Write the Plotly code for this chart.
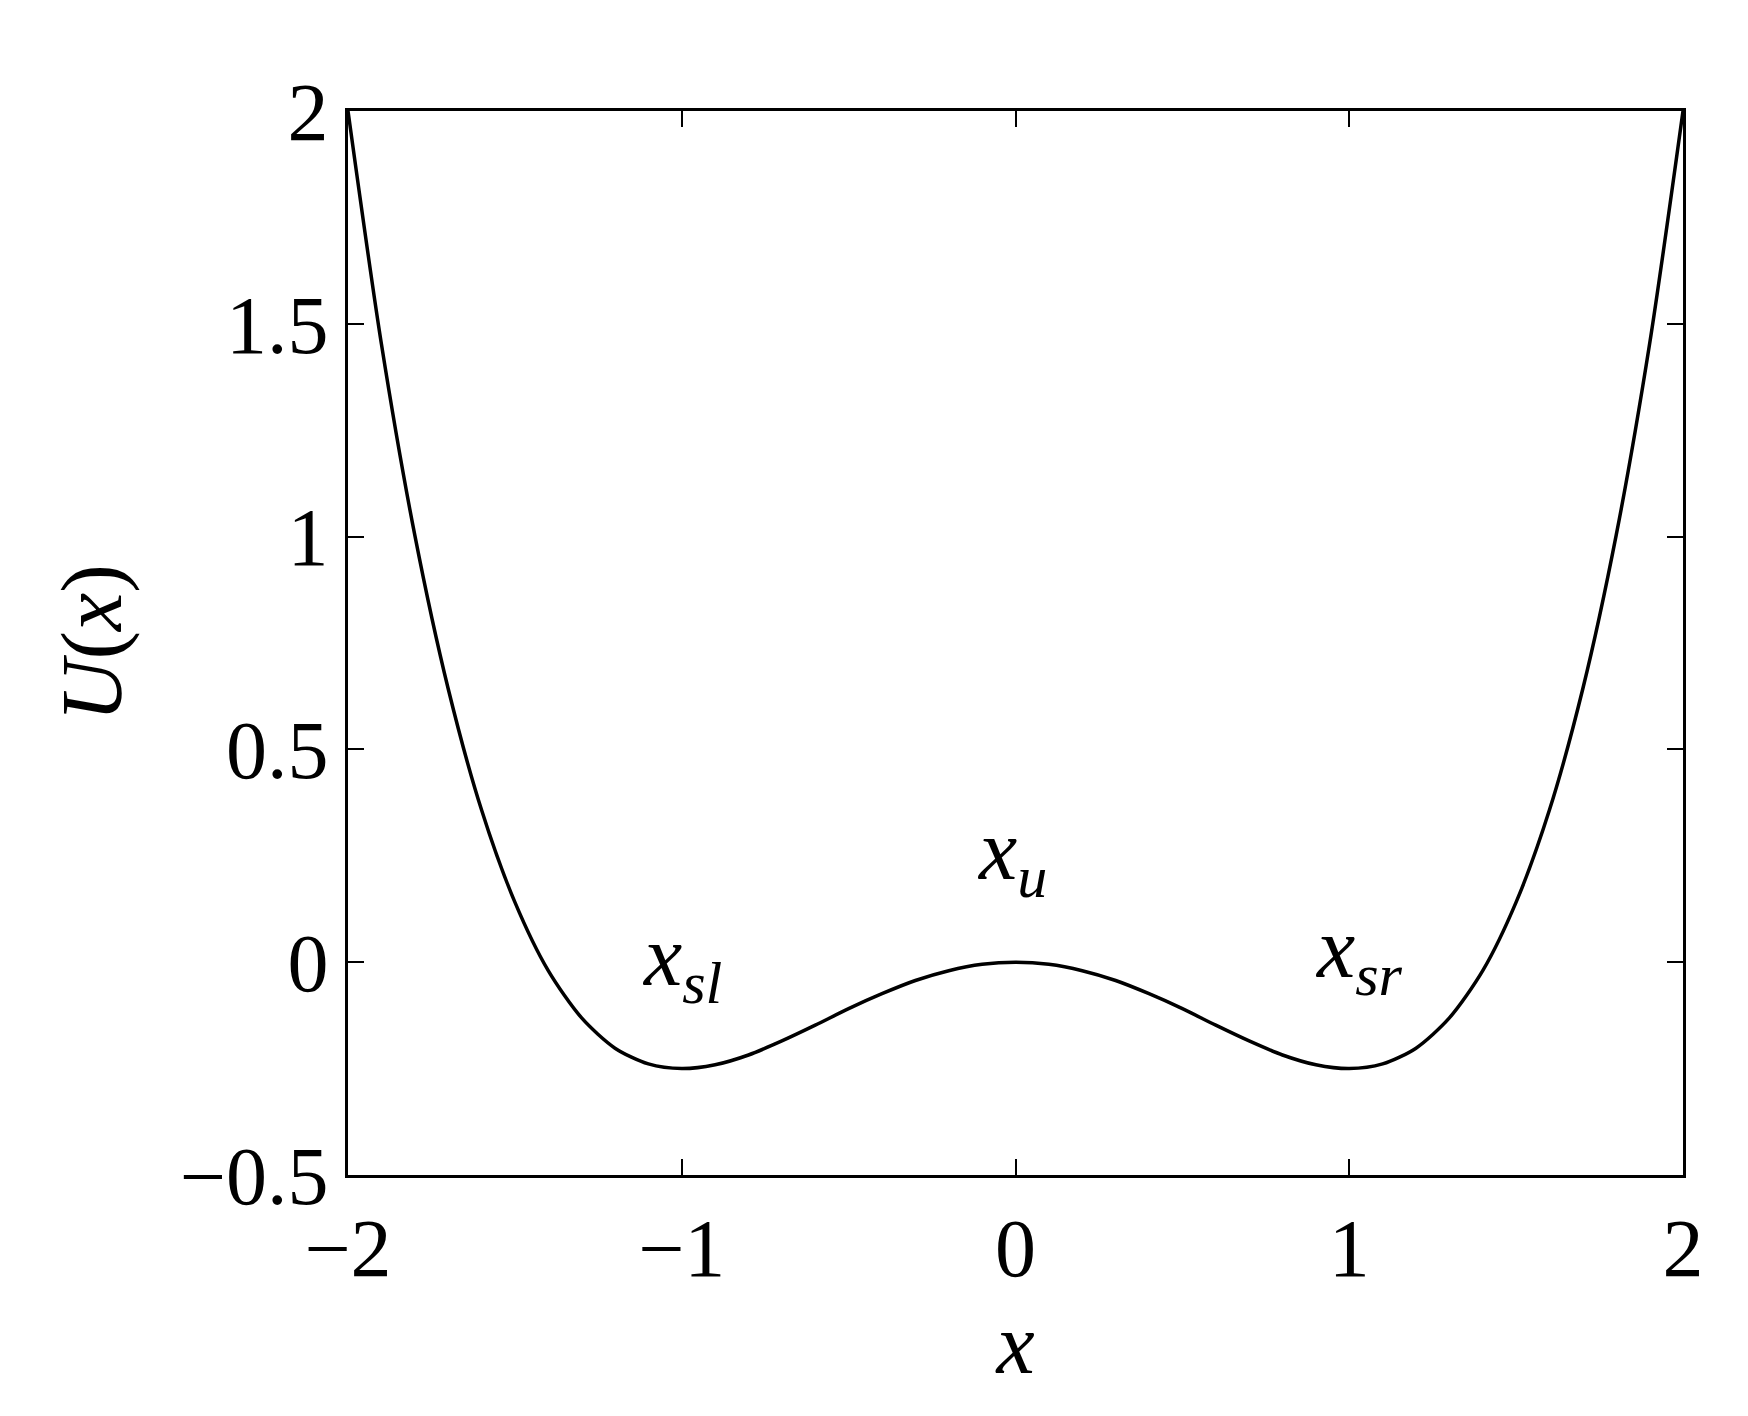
import plotly.graph_objects as go

# potential curve U(x)
x_vals = [-2.0, -1.9, -1.8, -1.7, -1.6, -1.5, -1.4, -1.3, -1.2, -1.1, -1.0,
          -0.9, -0.8, -0.7, -0.6, -0.5, -0.4, -0.3, -0.2, -0.1, 0.0,
          0.1, 0.2, 0.3, 0.4, 0.5, 0.6, 0.7, 0.8, 0.9, 1.0,
          1.1, 1.2, 1.3, 1.4, 1.5, 1.6, 1.7, 1.8, 1.9, 2.0]
u_vals = [2.0, 1.453, 1.004, 0.643, 0.358, 0.141, -0.020, -0.131, -0.202, -0.239, -0.25,
          -0.241, -0.218, -0.185, -0.148, -0.109, -0.074, -0.043, -0.020, -0.005, 0.0,
          -0.005, -0.020, -0.043, -0.074, -0.109, -0.148, -0.185, -0.218, -0.241, -0.25,
          -0.239, -0.202, -0.131, -0.020, 0.141, 0.358, 0.643, 1.004, 1.453, 2.0]

x_ticks = [-2, -1, 0, 1, 2]
x_ticktext = ["\u22122", "\u22121", "0", "1", "2"]
y_ticks = [-0.5, 0, 0.5, 1, 1.5, 2]
y_ticktext = ["\u22120.5", "0", "0.5", "1", "1.5", "2"]

labels = ["<i>x</i><sub><i>sl</i></sub>", "<i>x</i><sub><i>u</i></sub>", "<i>x</i><sub><i>sr</i></sub>"]
label_x = [-1.0, -0.01, 1.03]
label_y = [0.0, 0.25, 0.02]

serif = "Liberation Serif, DejaVu Serif, serif"

fig = go.Figure()
fig.add_trace(go.Scatter(x=x_vals, y=u_vals, mode="lines",
                         line=dict(color="black", width=3.5, shape="spline", smoothing=0.8),
                         showlegend=False, hoverinfo="skip"))

for t, lx, ly in zip(labels, label_x, label_y):
    fig.add_annotation(x=lx, y=ly, text=t, showarrow=False,
                       font=dict(family=serif, size=86, color="black"))

# y axis title placed by hand, further out than plotly's standoff allows
fig.add_annotation(xref="paper", yref="paper", x=-0.192, y=0.5, text="<i>U</i>(<i>x</i>)",
                   textangle=-90, showarrow=False, xanchor="center", yanchor="middle",
                   font=dict(family=serif, size=86, color="black"))

axis_common = dict(showgrid=False, zeroline=False, showline=True, linecolor="black",
                   linewidth=3, mirror="ticks", ticks="inside", ticklen=16,
                   tickwidth=2, tickcolor="black",
                   tickfont=dict(family=serif, size=82, color="black"))

fig.update_xaxes(range=[-2, 2], tickvals=x_ticks, ticktext=x_ticktext,
                 title=dict(text="<i>x</i>", font=dict(family=serif, size=86, color="black"),
                            standoff=20),
                 **axis_common)
fig.update_yaxes(range=[-0.5, 2], tickvals=y_ticks, ticktext=y_ticktext,
                 **axis_common)

fig.update_layout(width=1748, height=1416,
                  margin=dict(l=340, r=73, t=103, b=249),
                  plot_bgcolor="white", paper_bgcolor="white")

fig.write_html("out.html")
